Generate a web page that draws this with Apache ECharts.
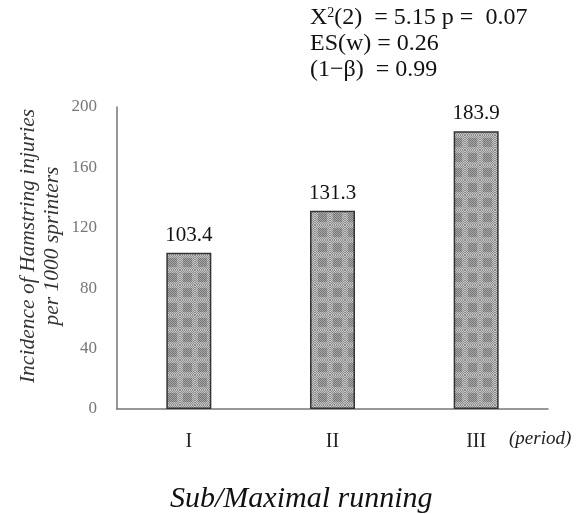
<!DOCTYPE html>
<html>
<head>
<meta charset="utf-8">
<script src="https://cdn.jsdelivr.net/npm/echarts@6/dist/echarts.min.js"></script>
<style>
	html, body { margin: 0; padding: 0; background: #fff; }
	#chart { width: 584px; height: 514px; }
</style>
</head>
<body>
<div id="chart"></div>
<script>
var periods = ['I', 'II', 'III'];
var incidence = [103.4, 131.3, 183.9];
var yTicks = [0, 40, 80, 120, 160, 200];
var statLines = ['{t|X}{s|2}{t|(2)  = 5.15 p =  0.07}', '{t|ES(w) = 0.26}', '{t|(1\u2212\u03b2)  = 0.99}'];

// checkered gray fill for the bars
function makePattern() {
	var c = document.createElement('canvas');
	c.width = 15;
	c.height = 15;
	var ctx = c.getContext('2d');
	for (var y = 0; y < 15; y++) {
		for (var x = 0; x < 15; x++) {
			var dark = (x + y) % 2 === 0;
			var inBlock = (x > 2 && x < 12) && (y > 2 && y < 12);
			ctx.fillStyle = dark ? (inBlock ? '#787878' : '#8c8c8c') : (inBlock ? '#a4a4a4' : '#c6c6c6');
			ctx.fillRect(x, y, 1, 1);
		}
	}
	return c;
}

var myChart = echarts.init(document.getElementById('chart'));
var serif = '"Liberation Serif", "DejaVu Serif", serif';

myChart.setOption({
	animation: false,
	grid: { left: 117, right: 36, top: 107, bottom: 105, outerBoundsMode: 'none', containLabel: false },
	xAxis: {
		type: 'category',
		data: periods,
		axisLine: { lineStyle: { color: '#777', width: 1.5 } },
		axisTick: { show: false },
		axisLabel: { color: '#222', fontFamily: serif, fontSize: 20, margin: 23 }
	},
	yAxis: {
		type: 'value',
		min: yTicks[0],
		max: yTicks[yTicks.length - 1],
		interval: 40,
		splitLine: { show: false },
		axisLine: { show: true, lineStyle: { color: '#777', width: 1.5 } },
		axisTick: { show: false },
		axisLabel: { color: '#777', fontFamily: serif, fontSize: 17, margin: 20 }
	},
	series: [{
		type: 'bar',
		data: incidence,
		barWidth: 45,
		itemStyle: {
			color: { image: makePattern(), repeat: 'repeat' },
			borderColor: '#333',
			borderWidth: 1.5
		},
		label: {
			show: true,
			position: 'top',
			distance: 7,
			color: '#111',
			fontFamily: serif,
			fontSize: 21
		}
	}],
	graphic: statLines.map(function(line, i) {
		return {
			type: 'text',
			left: 310,
			top: 6 + i * 26,
			style: {
				text: line,
				rich: {
					t: { font: '24px ' + serif, fill: '#111' },
					s: { font: '14px ' + serif, fill: '#111', verticalAlign: 'top', padding: [0, 0, 10, 0] }
				}
			}
		};
	}).concat([
		{
			type: 'text',
			x: 40,
			y: 246,
			rotation: Math.PI / 2,
			style: {
				text: 'Incidence of Hamstring injuries\nper 1000 sprinters',
				font: 'italic 21.5px ' + serif,
				fill: '#333',
				align: 'center',
				verticalAlign: 'middle',
				lineHeight: 24
			}
		},
		{ type: 'text', left: 509, top: 429, style: { text: '(period)', font: 'italic 19px ' + serif, fill: '#222' } },
		{ type: 'text', left: 170, top: 484, style: { text: 'Sub/Maximal running', font: 'italic 30px ' + serif, fill: '#111' } }
	])
});
</script>
</body>
</html>
